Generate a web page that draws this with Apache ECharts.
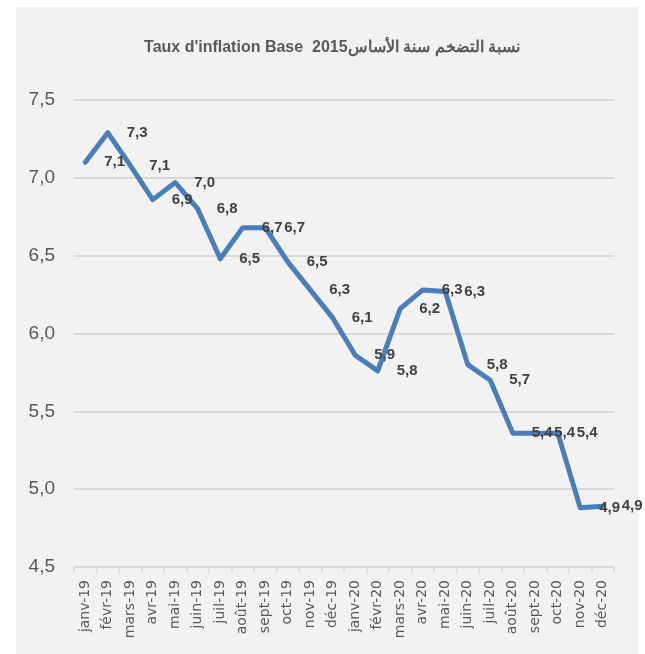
<!DOCTYPE html>
<html>
<head>
<meta charset="utf-8">
<script src="https://cdn.jsdelivr.net/npm/echarts@6/dist/echarts.min.js"></script>
<style>
  html, body { margin: 0; padding: 0; background: #ffffff; }
  #wrap { position: relative; width: 645px; height: 654px; overflow: hidden; }
  #panel { position: absolute; left: 16px; top: 7px; width: 622px; height: 647px; background: #f2f2f2; }
  #chart { position: absolute; left: 0; top: 0; width: 645px; height: 654px; }
</style>
</head>
<body>
<div id="wrap">
  <div id="panel"></div>
  <div id="chart"></div>
</div>
<script>
const titleText = "Taux d'inflation Base  2015نسبة التضخم سنة الأساس";
const categories = ['janv-19','févr-19','mars-19','avr-19','mai-19','juin-19','juil-19','août-19','sept-19','oct-19','nov-19','déc-19',
                    'janv-20','févr-20','mars-20','avr-20','mai-20','juin-20','juil-20','août-20','sept-20','oct-20','nov-20','déc-20'];
const inflation = [7.10, 7.29, 7.08, 6.86, 6.97, 6.80, 6.48, 6.68, 6.68, 6.46, 6.28, 6.10,
                   5.86, 5.76, 6.16, 6.28, 6.27, 5.80, 5.70, 5.36, 5.36, 5.36, 4.88, 4.89];
const yMin = 4.5, yMax = 7.5, yStep = 0.5;

const fmt = v => v.toFixed(1).replace('.', ',');
const SANS = '"Liberation Sans", Arial, sans-serif';

const chart = echarts.init(document.getElementById('chart'), null, { renderer: 'canvas' });
chart.setOption({
  backgroundColor: 'transparent',
  animation: false,
  title: {
    text: titleText,
    left: 327,
    textAlign: 'center',
    top: 35,
    textStyle: {
      fontFamily: SANS,
      fontWeight: 'bold',
      fontSize: 16,
      color: '#595959'
    }
  },
  grid: { left: 74, right: 31, top: 100, bottom: 87, containLabel: false },
  xAxis: {
    type: 'category',
    data: categories,
    boundaryGap: true,
    axisLine: { show: true, lineStyle: { color: '#d9d9d9', width: 1.5 } },
    axisTick: { show: true, length: 6, lineStyle: { color: '#d9d9d9', width: 1.5 } },
    axisLabel: {
      rotate: 90,
      interval: 0,
      margin: 13,
      fontFamily: '"DejaVu Sans", Verdana, sans-serif',
      fontSize: 14,
      color: '#595959'
    },
    splitLine: { show: false }
  },
  yAxis: {
    type: 'value',
    min: yMin,
    max: yMax,
    interval: yStep,
    axisLine: { show: false },
    axisTick: { show: false },
    axisLabel: {
      margin: 19,
      formatter: v => fmt(v),
      fontFamily: SANS,
      fontSize: 19,
      color: '#595959'
    },
    splitLine: { show: true, lineStyle: { color: '#d9d9d9', width: 2 } }
  },
  series: [{
    type: 'line',
    data: inflation,
    showSymbol: true,
    symbol: 'circle',
    symbolSize: 0,
    itemStyle: { color: '#4a7ebb' },
    lineStyle: { color: '#4a7ebb', width: 5, cap: 'round', join: 'round' },
    label: {
      show: true,
      position: 'right',
      distance: 19,
      offset: [0, 5],
      formatter: p => fmt(p.value),
      fontFamily: SANS,
      fontWeight: 'bold',
      fontSize: 15,
      color: '#404040'
    },
    labelLayout: { hideOverlap: false }
  }]
});
</script>
</body>
</html>
